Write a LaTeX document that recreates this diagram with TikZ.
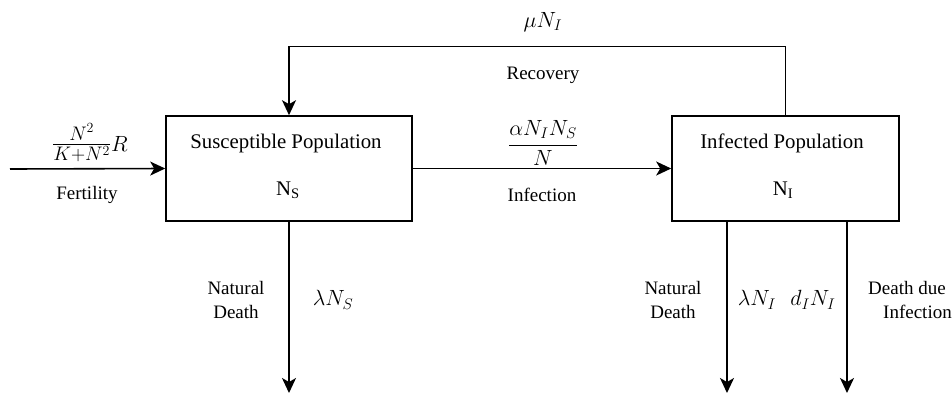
\RequirePackage{fix-cm}
\documentclass[tikz,border=0pt]{standalone}
\usepackage{amsmath}
\usepackage[no-math]{fontspec}
\setmainfont{Liberation Serif}
\newfontfamily\tnr{Liberation Serif}
\usetikzlibrary{arrows.meta}
\tikzset{
  box/.style={draw, line width=1.6pt, rectangle, inner sep=0pt},
  boxtext/.style={inner sep=0pt, font=\tnr\fontsize{20.8}{25}\selectfont},
  lbl/.style={inner sep=0pt, font=\tnr\fontsize{19}{24}\selectfont, align=center},
  mlbl/.style={inner sep=0pt, font=\fontsize{22}{26}\selectfont},
  flow/.style={line width=1.6pt, -{Stealth[length=15pt,width=14pt,inset=4pt]}},
  plain/.style={line width=1.6pt}
}
\begin{document}
\begin{tikzpicture}[x=1pt,y=-1pt]
\useasboundingbox (0,0) rectangle (952,394);
% boxes
\node[box, minimum width=246pt, minimum height=105pt] (S) at (289,168.5) {};
\node[box, minimum width=227pt, minimum height=105pt] (I) at (785.5,168.5) {};
\node[boxtext] (Stitle) at (286,143) {Susceptible Population};
\node[boxtext] (Svar) at (288,190) {N\textsubscript{S}};
\node[boxtext] (Ititle) at (782,143) {Infected Population};
\node[boxtext] (Ivar) at (783,190) {N\textsubscript{I}};
% coordinates
\coordinate (fin) at (10,169);
\coordinate (dS) at (289,393);
\coordinate (dI1) at (727,393);
\coordinate (dI2) at (847,393);
\coordinate (rtop) at (785.5,46.5);
% connectors
\draw[flow] (fin) -- (S.west);
\draw[flow] (S.east) -- (I.west);
\draw[flow] (I.north) -- (rtop) -| (S.north);
\draw[flow] (S.south) -- (dS);
\draw[flow] (I.south -| dI1) -- (dI1);
\draw[flow] (I.south -| dI2) -- (dI2);
% labels
\node[mlbl] (fert) at (90,143) {{\fontsize{28}{32}\selectfont$\tfrac{N^2}{K+N^2}$}$R$};
\node[lbl] (fertl) at (87,195) {Fertility};
\node[mlbl] (inf) at (543,143) {$\dfrac{\alpha N_I N_S}{N}$};
\node[lbl] (infl) at (542,195) {Infection};
\node[mlbl] (rec) at (543,22) {$\mu N_I$};
\node[lbl] (recl) at (543,75) {Recovery};
\node[lbl] (ndS) at (236,300) {Natural\\Death};
\node[mlbl] (lS) at (333,300) {$\lambda N_S$};
\node[lbl] (ndI) at (673,300) {Natural\\Death};
\node[mlbl] (lI) at (757,300) {$\lambda N_I$};
\node[mlbl] (dI) at (813,300) {$d_I N_I$};
\node[lbl, anchor=west, align=left] (ddI) at (868,300) {Death due\\\hspace*{15pt}Infection};
\end{tikzpicture}
\end{document}
